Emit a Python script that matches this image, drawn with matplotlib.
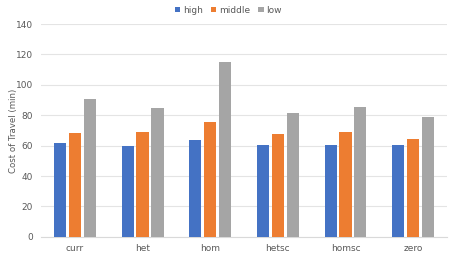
import numpy as np
import matplotlib.pyplot as plt

categories = ['curr', 'het', 'hom', 'hetsc', 'homsc', 'zero']
high = [61.6, 59.8, 63.6, 60.1, 60.1, 60.5]
middle = [68.2, 68.9, 75.6, 67.6, 68.9, 64.3]
low = [91.0, 84.5, 115.0, 81.8, 85.1, 79.0]

colors = ['#4472C4', '#ED7D31', '#A5A5A5']
text_col = '#595959'

fig = plt.figure(figsize=(4.57, 2.56), dpi=100)
ax = fig.add_axes([0.09, 0.075, 0.888, 0.831])

x = np.arange(len(categories))
w = 0.18
step = 0.22
for i, (vals, name) in enumerate(zip([high, middle, low], ['high', 'middle', 'low'])):
    ax.bar(x + (i - 1) * step, vals, width=w, color=colors[i], label=name, zorder=3)

ax.set_xlim(-0.5, len(categories) - 0.5)
ax.set_ylim(0, 140)
ax.set_yticks(range(0, 141, 20))
ax.set_xticks(x)
ax.set_xticklabels(categories)
ax.grid(axis='y', color='#E4E4E4', linewidth=0.8, zorder=0)
for s in ['top', 'right', 'left']:
    ax.spines[s].set_visible(False)
ax.spines['bottom'].set_color('#D9D9D9')
ax.tick_params(axis='both', length=0, labelsize=6.5, colors=text_col)
ax.tick_params(axis='x', pad=5)
ax.tick_params(axis='y', pad=6)
ax.set_ylabel('Cost of Travel (min)', fontsize=6.2, color=text_col)
ax.yaxis.set_label_coords(-0.058, 0.5)

fig.legend(loc='upper center', bbox_to_anchor=(0.5, 1.01), ncol=3, frameon=False,
           fontsize=6.5, handlelength=0.6, handleheight=0.6, handletextpad=0.3,
           columnspacing=0.9, labelcolor=text_col)

fig.savefig('out.png', dpi=100)
